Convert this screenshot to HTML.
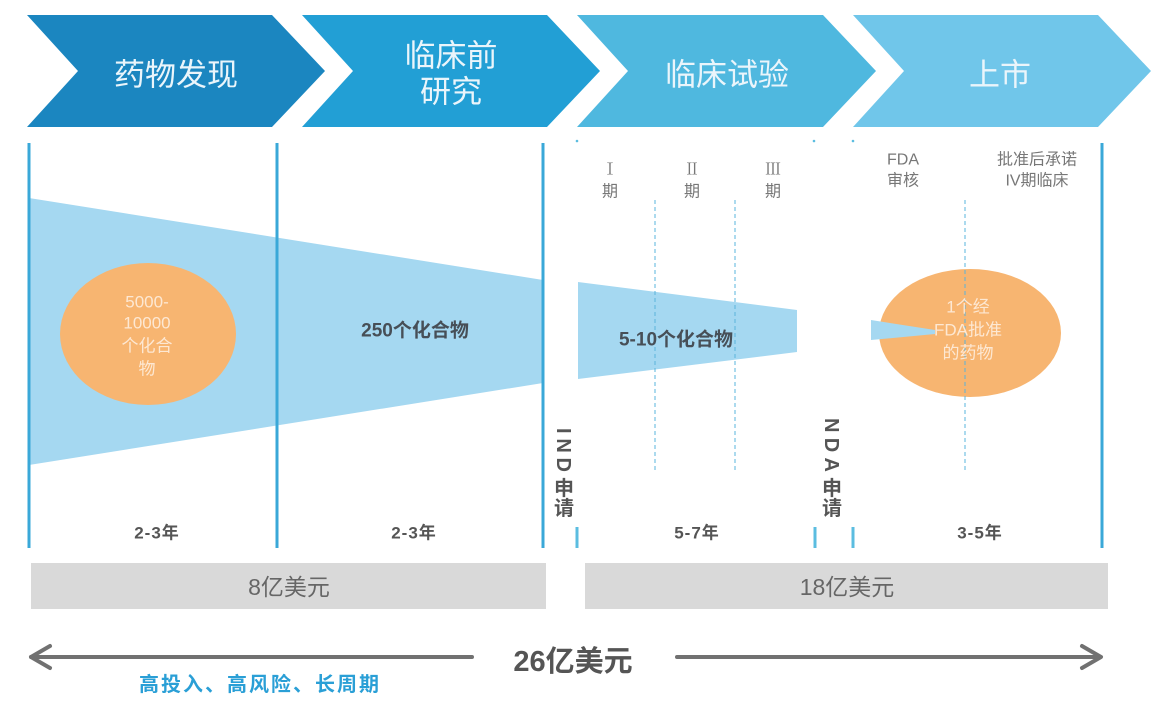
<!DOCTYPE html>
<html><head><meta charset="utf-8"><style>
html,body{margin:0;padding:0;background:#fff;}
svg{display:block;}
text{font-family:"Liberation Sans","Noto Sans CJK SC",sans-serif;}
</style></head><body>
<svg width="1161" height="720" viewBox="0 0 1161 720" xmlns="http://www.w3.org/2000/svg">
<rect width="1161" height="720" fill="#fff"/>
<!-- chevrons -->
<polygon points="27,15 272,15 325,71 272,127 27,127 78,71" fill="#1b86c0"/>
<polygon points="302,15 547,15 600,71 547,127 302,127 353,71" fill="#229fd5"/>
<polygon points="577,15 823,15 876,71 823,127 577,127 628,71" fill="#4fb8df"/>
<polygon points="853,15 1098,15 1151,71 1098,127 853,127 904,71" fill="#70c6ea"/>
<g fill="#eaf5fb" font-size="31" text-anchor="middle" dominant-baseline="central">
<text x="176" y="75">药物发现</text>
<text x="451" y="56">临床前</text>
<text x="451" y="92">研究</text>
<text x="727" y="75">临床试验</text>
<text x="1000" y="75">上市</text>
</g>
<!-- trapezoids -->
<polygon points="29,198 543,280 543,383 29,465" fill="#a5d8f1"/>
<polygon points="578,282 797,310 797,352 578,379" fill="#a5d8f1"/>
<!-- orange circles -->
<ellipse cx="148" cy="334" rx="88" ry="71" fill="#f7b571"/>
<ellipse cx="970" cy="333" rx="91" ry="64" fill="#f7b571"/>
<polygon points="871,320 935,330 935,334 871,340" fill="#a5d8f1"/>
<!-- vertical lines -->
<g stroke="#3aa8d8" stroke-width="3">
<line x1="29" y1="143" x2="29" y2="548"/>
<line x1="277" y1="143" x2="277" y2="548"/>
<line x1="543" y1="143" x2="543" y2="548"/>
<line x1="1102" y1="143" x2="1102" y2="548"/>
</g>
<g stroke="#5bbde0" stroke-width="3">
<line x1="577" y1="527" x2="577" y2="548"/>
<line x1="815" y1="527" x2="815" y2="548"/>
<line x1="853" y1="527" x2="853" y2="548"/>
</g>
<g fill="#5bbde0">
<circle cx="577" cy="141" r="1.3"/>
<circle cx="814" cy="141" r="1.3"/>
<circle cx="853" cy="141" r="1.3"/>
</g>
<g stroke="#5ab4dc" stroke-width="1" stroke-dasharray="4,3">
<line x1="655" y1="200" x2="655" y2="470"/>
<line x1="735" y1="200" x2="735" y2="470"/>
<line x1="965" y1="200" x2="965" y2="470"/>
</g>
<!-- top labels -->
<g fill="#777" font-size="16" text-anchor="middle" dominant-baseline="central">
<text x="610" y="168" style="font-family:'Noto Serif CJK SC','Liberation Serif',serif">Ⅰ</text>
<text x="610" y="192">期</text>
<text x="692" y="168" style="font-family:'Noto Serif CJK SC','Liberation Serif',serif">Ⅱ</text>
<text x="692" y="192">期</text>
<text x="773" y="168" style="font-family:'Noto Serif CJK SC','Liberation Serif',serif">Ⅲ</text>
<text x="773" y="192">期</text>
<text x="903" y="160">FDA</text>
<text x="903" y="181">审核</text>
<text x="1037" y="160">批准后承诺</text>
<text x="1037" y="181">IV期临床</text>
</g>
<!-- circle texts -->
<g fill="#fde8d3" font-size="17" text-anchor="middle" dominant-baseline="central">
<text x="147" y="302">5000-</text>
<text x="147" y="323">10000</text>
<text x="147" y="346">个化合</text>
<text x="147" y="369">物</text>
<text x="968" y="307">1个经</text>
<text x="968" y="330">FDA批准</text>
<text x="968" y="353">的药物</text>
</g>
<g fill="#474f57" font-size="19" font-weight="bold" text-anchor="middle" dominant-baseline="central">
<text x="415" y="331">250个化合物</text>
<text x="676" y="340">5-10个化合物</text>
</g>
<!-- vertical labels -->
<g fill="#555" font-size="20" font-weight="bold">
<text transform="translate(564,428) rotate(90)" x="0" y="7" textLength="44" lengthAdjust="spacing">IND</text>
<text x="564" y="495" text-anchor="middle">申</text>
<text x="564" y="515" text-anchor="middle">请</text>
<text transform="translate(832,418) rotate(90)" x="0" y="7" textLength="54" lengthAdjust="spacing">NDA</text>
<text x="832" y="495" text-anchor="middle">申</text>
<text x="832" y="515" text-anchor="middle">请</text>
</g>
<!-- year labels -->
<g fill="#555" font-size="17" font-weight="bold" text-anchor="middle" dominant-baseline="central" letter-spacing="1">
<text x="157" y="533">2-3年</text>
<text x="414" y="533">2-3年</text>
<text x="697" y="533">5-7年</text>
<text x="980" y="533">3-5年</text>
</g>
<!-- gray bars -->
<rect x="31" y="563" width="515" height="46" fill="#d9d9d9"/>
<rect x="585" y="563" width="523" height="46" fill="#d9d9d9"/>
<g fill="#666" font-size="23" text-anchor="middle" dominant-baseline="central">
<text x="289" y="587">8亿美元</text>
<text x="847" y="587">18亿美元</text>
</g>
<!-- arrows -->
<g stroke="#717171" stroke-width="4" fill="none" stroke-linecap="round" stroke-linejoin="round">
<line x1="31" y1="657" x2="472" y2="657"/>
<polyline points="50,646 31,657 50,668"/>
<line x1="677" y1="657" x2="1100" y2="657"/>
<polyline points="1082,646 1101,657 1082,668"/>
</g>
<text x="573" y="662" fill="#555" font-size="29" font-weight="bold" text-anchor="middle" dominant-baseline="central">26亿美元</text>
<text x="260" y="685" fill="#2a9fd6" font-size="20" font-weight="bold" text-anchor="middle" dominant-baseline="central" letter-spacing="2">高投入、高风险、长周期</text>
</svg>
</body></html>
